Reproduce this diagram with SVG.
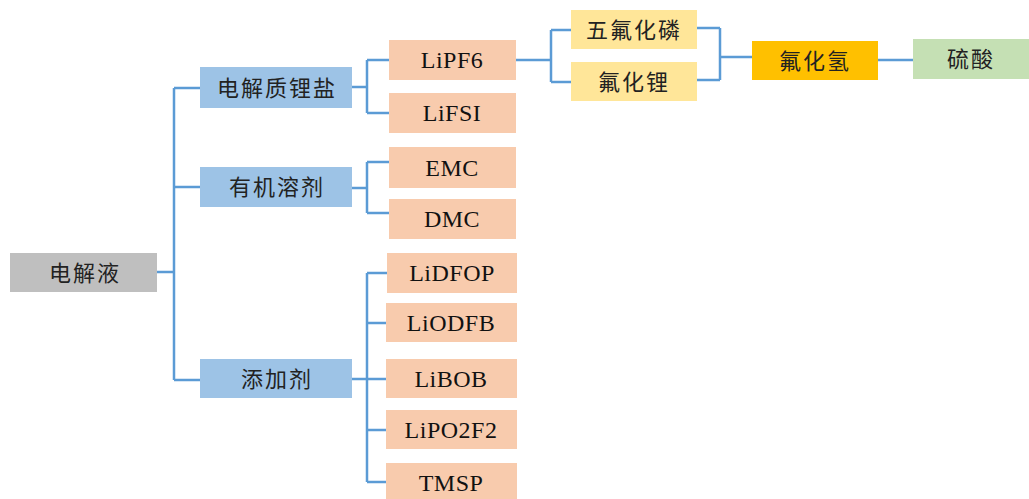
<svg xmlns="http://www.w3.org/2000/svg" width="1029" height="499" viewBox="0 0 1029 499">
<style>
.zh{font-family:"Noto Sans CJK SC","Liberation Serif",serif;font-size:22px;letter-spacing:2px;fill:#222;text-anchor:middle}
.en{font-family:"Liberation Serif",serif;font-size:24px;letter-spacing:0.5px;fill:#111;text-anchor:middle}
.gray{fill:#BFBFBF}.blue{fill:#9DC3E6}.peach{fill:#F8CBAD}.ylw{fill:#FFE699}.org{fill:#FFC000}.grn{fill:#C5E0B4}
.ln{fill:none;stroke:#5B9BD5;stroke-width:2.5}
</style>
<rect width="1029" height="499" fill="#fff"/>
<g id="connectors">
<path class="ln" d="M157,272 H174 M174,88 V380 M174,88 H200 M174,187 H200 M174,380 H200"/>
<path class="ln" d="M352,87 H367 M367,60 V113 M367,60 H389 M367,113 H389"/>
<path class="ln" d="M352,188 H367 M367,162 V213 M367,162 H389 M367,213 H389"/>
<path class="ln" d="M352,379 H387 M367,273 V482 M367,273 H387 M367,323 H387 M367,430 H387 M367,482 H387"/>
<path class="ln" d="M516,60 H551 M551,30 V82 M551,30 H571 M551,82 H571"/>
<path class="ln" d="M697,28 H720 M697,80 H720 M720,28 V80 M720,57 H752"/>
<path class="ln" d="M878,60 H913"/>
</g>
<g id="n_electrolyte"><rect class="gray" x="10" y="253" width="147" height="39"/><text class="zh" x="85" y="281">电解液</text></g>
<g id="n_salt"><rect class="blue" x="200" y="67" width="152" height="41"/><text class="zh" x="277" y="96">电解质锂盐</text></g>
<g id="n_solvent"><rect class="blue" x="200" y="167" width="152" height="40"/><text class="zh" x="277" y="195">有机溶剂</text></g>
<g id="n_additive"><rect class="blue" x="200" y="359" width="152" height="39"/><text class="zh" x="277" y="387">添加剂</text></g>
<g id="n_lipf6"><rect class="peach" x="389" y="40" width="127" height="40"/><text class="en" x="452" y="68">LiPF6</text></g>
<g id="n_lifsi"><rect class="peach" x="389" y="93" width="127" height="40"/><text class="en" x="452" y="121">LiFSI</text></g>
<g id="n_emc"><rect class="peach" x="389" y="147" width="127" height="41"/><text class="en" x="452" y="176">EMC</text></g>
<g id="n_dmc"><rect class="peach" x="389" y="199" width="127" height="40"/><text class="en" x="452" y="227">DMC</text></g>
<g id="n_lidfop"><rect class="peach" x="387" y="253" width="130" height="40"/><text class="en" x="452" y="281">LiDFOP</text></g>
<g id="n_liodfb"><rect class="peach" x="386" y="303" width="131" height="39"/><text class="en" x="451" y="331">LiODFB</text></g>
<g id="n_libob"><rect class="peach" x="386" y="359" width="131" height="39"/><text class="en" x="451" y="387">LiBOB</text></g>
<g id="n_lipo2f2"><rect class="peach" x="386" y="410" width="131" height="39"/><text class="en" x="451" y="438">LiPO2F2</text></g>
<g id="n_tmsp"><rect class="peach" x="386" y="463" width="131" height="40"/><text class="en" x="451" y="491">TMSP</text></g>
<g id="n_pf5"><rect class="ylw" x="571" y="10" width="126" height="39"/><text class="zh" x="634" y="38">五氟化磷</text></g>
<g id="n_lif"><rect class="ylw" x="571" y="62" width="126" height="39"/><text class="zh" x="634" y="90">氟化锂</text></g>
<g id="n_hf"><rect class="org" x="752" y="41" width="126" height="39"/><text class="zh" x="815" y="69">氟化氢</text></g>
<g id="n_h2so4"><rect class="grn" x="913" y="39" width="116" height="40"/><text class="zh" x="971" y="67">硫酸</text></g>
</svg>
